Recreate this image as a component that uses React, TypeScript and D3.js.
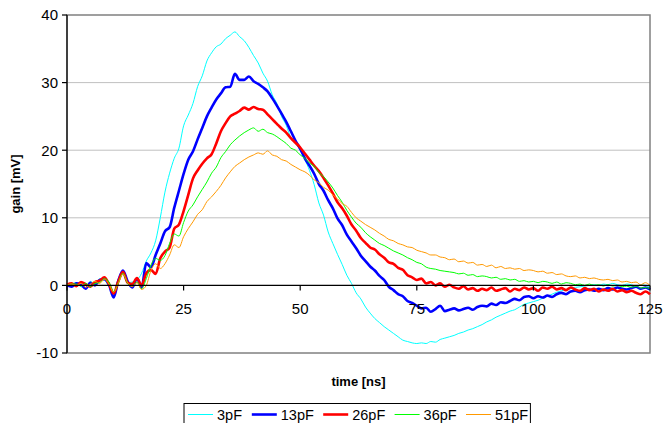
import React from 'react';
import * as d3 from 'd3';

// time axis: one sample per ns, 0..125
const times = d3.range(0, 126);

const labels = ['3pF', '13pF', '26pF', '36pF', '51pF'];
const colors = ['#00FFFF', '#0000FF', '#FF0000', '#00FF00', '#FF9900'];
const widths = [1, 2.6, 2.6, 1, 1];

const xTicks = [0, 25, 50, 75, 100, 125];
const yTicks = [-10, 0, 10, 20, 30, 40];

const pf3 = [
  0, 0.2, 0.4, -0.2, -0.3, 0.6, 0.2, 1.0, 0.8, -0.2, -1.3, 0.9, 1.6, 0.4, 0.5, 0.8, 1.8,
  3.6, 4.8, 6.6, 10.0, 13.8, 16.6, 18.8, 20.3, 23.6, 25.2, 26.9, 29.4, 31.0, 33.2, 34.4,
  35.3, 35.7, 36.5, 37.0, 37.5, 36.8, 36.2, 35.2, 34.0, 32.9, 31.4, 30.2, 28.2, 26.9, 25.0,
  23.7, 21.8, 21.0, 20.0, 18.6, 17.0, 14.9, 12.2, 10.4, 7.9, 6.2, 4.6, 3.1, 1.5, 0.3,
  -1.1, -2.0, -3.2, -4.1, -4.9, -5.5, -6.1, -6.6, -7.1, -7.6, -8.1, -8.3, -8.5, -8.6,
  -8.5, -8.6, -8.3, -8.4, -8.0, -7.8, -7.6, -7.4, -7.1, -6.9, -6.6, -6.4, -6.1, -5.8,
  -5.4, -5.1, -4.7, -4.4, -4.1, -3.8, -3.6, -3.2, -2.8, -2.6, -2.4, -2.2, -1.9, -1.6,
  -1.3, -1.0, -0.8, -0.6, -0.5, -0.3, -0.2, -0.1, 0.0, 0.1, 0.0, 0.2, 0.1, 0.3, 0.1, 0.0,
  0.2, 0.1, -0.1, 0.1, 0.0, -0.2,
];

const pf13 = [
  0, -0.2, 0.3, 0.2, -0.5, 0.4, 0.0, 0.8, 0.9, 0.1, -1.8, 0.7, 2.2, 0.6, -0.3, 1.0, -0.3,
  3.3, 2.7, 4.5, 6.2, 8.0, 8.6, 11.5, 14.0, 16.5, 18.6, 19.8, 21.6, 23.3, 25.0, 26.3,
  27.5, 28.4, 29.3, 29.4, 31.3, 30.4, 30.4, 30.9, 30.2, 29.8, 29.3, 28.7, 27.7, 26.6,
  25.4, 24.2, 22.8, 21.4, 20.2, 18.8, 17.7, 16.5, 15.0, 14.0, 12.6, 11.4, 9.9, 8.9, 7.5,
  6.5, 5.5, 4.4, 3.6, 2.8, 2.2, 1.4, 0.8, -0.2, -0.7, -1.3, -1.6, -2.3, -2.6, -3.0, -3.4,
  -3.3, -3.9, -3.5, -3.0, -3.8, -3.6, -3.4, -3.7, -3.5, -3.3, -3.6, -3.2, -3.0, -3.1,
  -2.7, -2.9, -2.5, -2.6, -2.3, -2.0, -2.2, -1.7, -1.6, -1.9, -1.6, -1.8, -1.5, -1.7,
  -1.3, -1.1, -1.3, -0.9, -0.8, -1.0, -0.7, -0.6, -0.8, -0.5, -0.7, -0.4, -0.6, -0.3,
  -0.5, -0.6, -0.4, -0.2, -0.5, -0.3, -0.6,
];

const pf26 = [
  0.1, 0.3, -0.1, 0.5, 0.2, -0.2, 0.5, 0.7, 1.2, 0.2, -1.2, 0.6, 2.0, 0.4, 0.2, 1.1, 0.0,
  1.8, 2.3, 1.7, 4.0, 5.0, 5.6, 8.4, 9.0, 11.0, 13.4, 15.8, 17.0, 18.0, 18.8, 19.4, 21.0,
  22.8, 24.0, 25.0, 25.4, 25.8, 26.3, 26.0, 26.4, 26.1, 26.0, 25.3, 24.6, 23.9, 23.2,
  22.6, 21.8, 21.1, 20.4, 19.5, 18.6, 17.7, 16.9, 15.9, 14.8, 13.6, 12.3, 11.4, 10.3, 9.0,
  8.1, 7.0, 6.3, 5.6, 5.3, 4.6, 4.1, 3.4, 3.2, 2.6, 2.3, 1.5, 1.2, 0.8, 1.0, 0.3, 0.5, 0.0,
  0.3, -0.2, 0.1, -0.3, -0.5, -0.1, -0.6, -0.4, -0.8, -0.5, -0.7, -0.3, -0.8, -0.6, -0.4,
  -0.9, -0.5, -0.7, -0.3, -0.6, -0.4, -0.8, -0.3, -0.5, -0.2, -0.6, -0.4, -0.7, -0.3,
  -0.6, -0.8, -0.4, -0.7, -0.5, -0.9, -0.6, -0.8, -0.5, -0.9, -0.7, -1.0, -0.8, -1.1,
  -1.3, -0.9, -1.3,
];

const pf36 = [
  0, 0.2, 0.2, -0.1, 0.3, -0.2, 0.3, 0.4, 1.0, 0.5, -0.9, 0.4, 1.8, 0.3, -0.1, 0.5, -0.5,
  1.0, 3.0, 4.0, 3.7, 4.4, 6.2, 7.6, 7.3, 9.3, 11.0, 11.9, 13.1, 14.2, 15.3, 16.6, 17.5,
  18.9, 19.8, 20.8, 21.5, 22.1, 22.6, 23.0, 23.3, 22.8, 23.1, 22.6, 22.4, 22.0, 21.5,
  21.0, 20.3, 20.0, 19.3, 18.8, 18.1, 17.6, 16.7, 16.1, 15.3, 14.4, 13.3, 12.3, 11.1,
  10.1, 9.2, 8.6, 7.8, 7.2, 6.7, 6.2, 5.9, 5.5, 5.1, 4.8, 4.5, 4.1, 3.8, 3.4, 3.2, 2.7,
  2.5, 2.4, 2.2, 2.1, 2.0, 1.9, 1.7, 1.8, 1.5, 1.6, 1.3, 1.4, 1.3, 1.1, 1.2, 0.9, 1.0, 0.8,
  0.9, 0.6, 0.7, 0.5, 0.6, 0.4, 0.6, 0.5, 0.3, 0.5, 0.2, 0.4, 0.3, 0.1, 0.2, 0.0, 0.2,
  0.0, 0.1, -0.1, 0.1, -0.1, 0.0, -0.2, -0.1, -0.3, -0.1, -0.4, -0.3, -0.5,
];

const pf51 = [
  0.1, 0.2, 0.0, 0.3, -0.3, 0.2, 0.6, 0.3, 0.9, 0.2, -1.0, 0.3, 1.7, 0.4, -0.2, 0.4, -0.6,
  0.0, 2.2, 3.2, 2.5, 3.2, 4.5, 6.0, 5.6, 7.2, 8.4, 9.4, 10.5, 11.2, 12.4, 13.1, 13.9,
  14.8, 15.9, 16.8, 17.6, 18.1, 18.6, 19.0, 19.3, 19.6, 19.4, 19.9, 19.3, 19.1, 18.6,
  18.4, 17.9, 17.5, 17.1, 16.8, 16.3, 15.6, 15.2, 14.5, 14.1, 13.4, 12.8, 12.1, 11.7,
  10.8, 10.0, 9.5, 9.0, 8.6, 8.2, 7.7, 7.3, 6.8, 6.6, 6.2, 6.0, 5.7, 5.6, 5.2, 5.0, 4.8,
  4.5, 4.5, 4.2, 4.1, 3.8, 3.9, 3.5, 3.6, 3.3, 3.4, 3.0, 3.1, 2.8, 3.0, 2.6, 2.8, 2.5,
  2.6, 2.4, 2.5, 2.2, 2.3, 2.2, 2.0, 2.1, 1.8, 1.9, 1.6, 1.7, 1.4, 1.3, 1.4, 1.1, 1.2,
  1.0, 1.1, 0.9, 0.8, 0.9, 0.7, 0.8, 0.5, 0.6, 0.4, 0.5, 0.1, 0.4, 0.0,
];

const series = [pf3, pf13, pf26, pf36, pf51];

const W = 664;
const H = 423;
const margin = { top: 15, right: 14, bottom: 70, left: 67 };
const font = 'Arial, "Liberation Sans", sans-serif';

const App = () => {
  const x = d3.scaleLinear().domain([0, 125]).range([margin.left, W - margin.right]);
  const y = d3.scaleLinear().domain([-10, 40]).range([H - margin.bottom, margin.top]);

  const line = d3
    .line<number>()
    .x((d, i) => x(times[i]))
    .y(d => y(d))
    .curve(d3.curveMonotoneX);

  // legend layout: sample line, gap, label, gap
  const charW = 7.6;
  let lx = 188;
  const legendItems = labels.map((lab, i) => {
    const item = { lab, i, x: lx };
    lx += 25 + 4 + lab.length * charW + 12;
    return item;
  });
  const legendLeft = 184;
  const legendRight = lx - 7;

  return (
    <svg width={W} height={H} style={{ position: 'absolute', left: 0, top: 0, background: '#fff' }}>
      {/* gridlines */}
      {yTicks.filter(t => t > 0 && t < 40).map(t => (
        <line key={'g' + t} x1={x(0)} x2={x(125)} y1={y(t)} y2={y(t)} stroke="#c0c0c0" strokeWidth={1} />
      ))}
      {/* plot border */}
      <rect x={x(0)} y={y(40)} width={x(125) - x(0)} height={y(-10) - y(40)} fill="none" stroke="#808080" strokeWidth={1.5} />

      {/* series */}
      {series.map((s, i) => (
        <path key={labels[i]} d={line(s) || ''} fill="none" stroke={colors[i]} strokeWidth={widths[i]} strokeLinejoin="round" />
      ))}

      {/* y axis */}
      <line x1={x(0)} x2={x(0)} y1={y(40)} y2={y(-10)} stroke="#000" strokeWidth={1.2} />
      {yTicks.map(t => (
        <g key={'y' + t}>
          <line x1={x(0) - 5} x2={x(0)} y1={y(t)} y2={y(t)} stroke="#000" strokeWidth={1.2} />
          <text x={x(0) - 9} y={y(t)} dy="0.36em" textAnchor="end" fontFamily={font} fontSize={15} fill="#000">
            {t}
          </text>
        </g>
      ))}

      {/* x axis at zero */}
      <line x1={x(0)} x2={x(125)} y1={y(0)} y2={y(0)} stroke="#000" strokeWidth={1.2} />
      {xTicks.map(t => (
        <g key={'x' + t}>
          <line x1={x(t)} x2={x(t)} y1={y(0)} y2={y(0) + 5} stroke="#000" strokeWidth={1.2} />
          <text x={x(t)} y={y(0) + 29} textAnchor="middle" fontFamily={font} fontSize={15} fill="#000">
            {t}
          </text>
        </g>
      ))}

      {/* axis titles */}
      <text x={(x(0) + x(125)) / 2} y={386} textAnchor="middle" fontFamily={font} fontSize={13} fontWeight="bold">
        time [ns]
      </text>
      <text
        transform={`translate(20, ${(y(40) + y(-10)) / 2}) rotate(-90)`}
        textAnchor="middle"
        fontFamily={font}
        fontSize={13}
        fontWeight="bold"
      >
        gain [mV]
      </text>

      {/* legend */}
      <rect x={legendLeft} y={403.5} width={legendRight - legendLeft} height={30} fill="#fff" stroke="#000" strokeWidth={1} />
      {legendItems.map(it => (
        <g key={'l' + it.lab}>
          <line x1={it.x} x2={it.x + 25} y1={414.5} y2={414.5} stroke={colors[it.i]} strokeWidth={widths[it.i]} />
          <text x={it.x + 29} y={419.5} fontFamily={font} fontSize={14.5} fill="#000">
            {it.lab}
          </text>
        </g>
      ))}
    </svg>
  );
};

export default App;
